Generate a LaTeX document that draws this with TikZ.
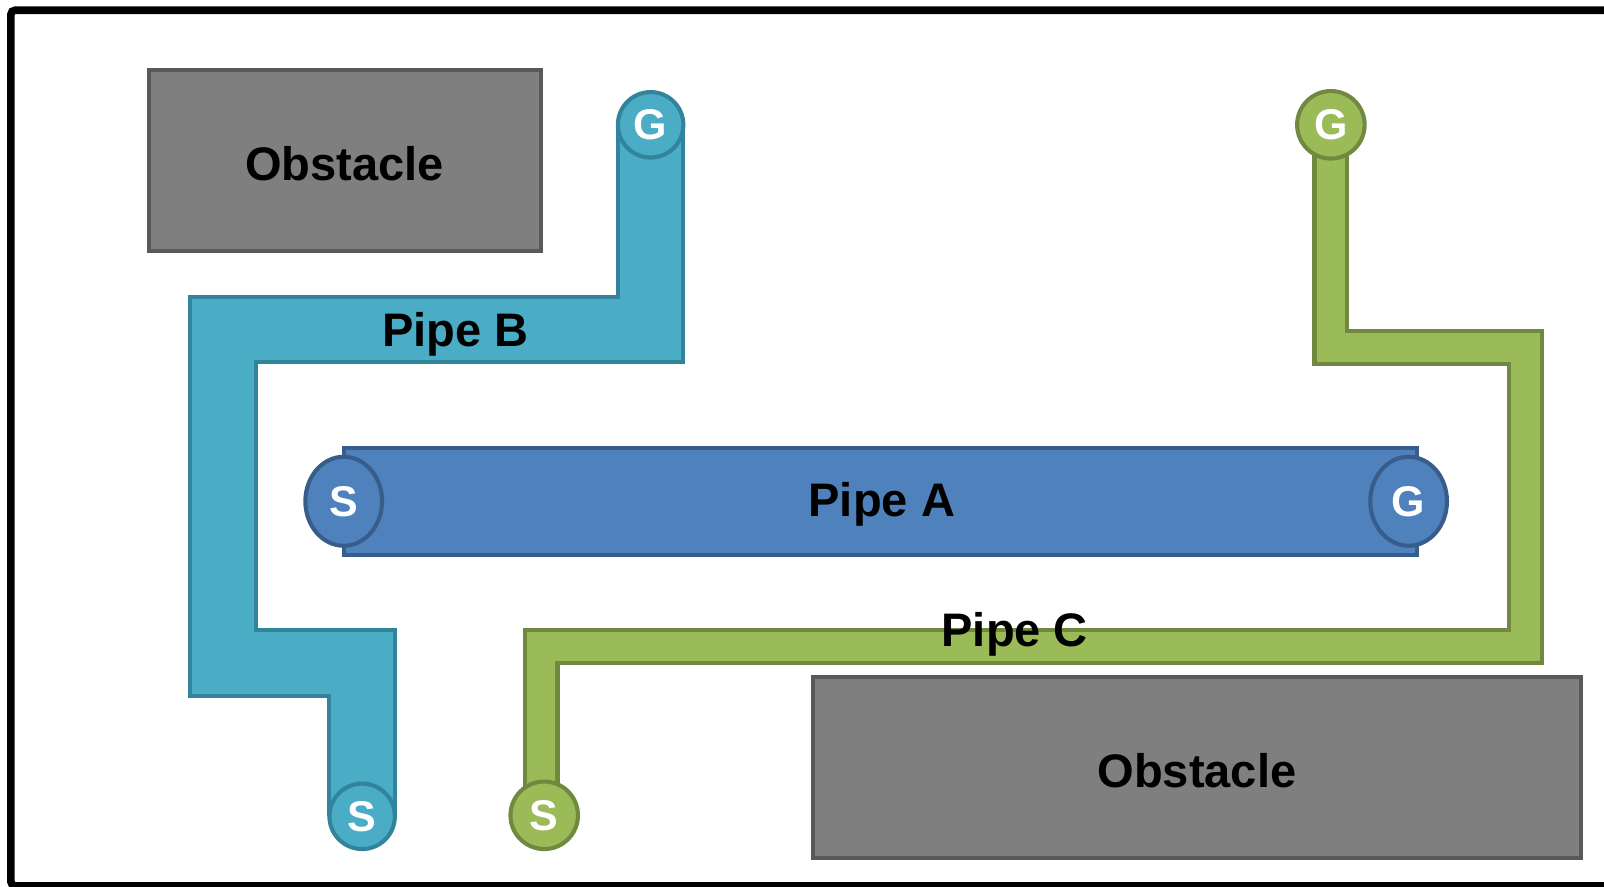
\documentclass[tikz,border=0pt]{standalone}
\usepackage{fontspec}
\setmainfont{Liberation Sans}
\usetikzlibrary{shapes.geometric}

\definecolor{tealfill}{HTML}{4BACC6}
\definecolor{tealline}{HTML}{31849B}
\definecolor{greenfill}{HTML}{9BBB59}
\definecolor{greenline}{HTML}{71893F}
\definecolor{bluefill}{HTML}{4F81BD}
\definecolor{blueline}{HTML}{385D8A}
\definecolor{obsfill}{HTML}{7F7F7F}
\definecolor{obsline}{HTML}{595959}

\begin{document}
\begin{tikzpicture}[x=0.5pt,y=-0.5pt,
  lbl/.style={font=\fontsize{23}{23}\selectfont\bfseries, text=black},
  endfont/.style={font=\fontsize{21}{21}\selectfont\bfseries, text=white, inner sep=0pt},
  obstacle/.style={rectangle, draw=obsline, fill=obsfill, line width=2pt, lbl},
  tealpipe/.style={draw=tealline, double=tealfill, double distance=30pt, line width=2pt, line join=miter},
  greenpipe/.style={draw=greenline, double=greenfill, double distance=14pt, line width=2pt, line join=miter},
  tealend/.style={circle, draw=tealline, fill=tealfill, line width=2pt, minimum size=32pt, endfont},
  greenend/.style={circle, draw=greenline, fill=greenfill, line width=2pt, minimum size=33pt, endfont},
  blueend/.style={ellipse, draw=blueline, fill=bluefill, line width=2pt, minimum width=37.5pt, minimum height=43.5pt, endfont},
  bluebar/.style={rectangle, draw=blueline, fill=bluefill, line width=2pt}]

\useasboundingbox (0,0) rectangle (1568,867);

% outer frame
\draw[line width=3.7pt, rounded corners=2pt] (10.7,10) rectangle (1600,866);

% obstacles
\node[obstacle, minimum width=191.5pt, minimum height=88.5pt] (obsA) at (337,157) {};
\node[lbl] (obsAtext) at (337,160) {Obstacle};
\node[obstacle, minimum width=375.5pt, minimum height=88.5pt] (obsB) at (1170,750) {};
\node[lbl] (obsBtext) at (1170,753) {Obstacle};

% pipe endpoints
\coordinate (bSp) at (354,798);
\coordinate (bGp) at (636,122);
\coordinate (cSp) at (532,797);
\coordinate (cGp) at (1301,122);

% pipe B
\coordinate (b1) at (354,648);
\coordinate (b2) at (218,648);
\coordinate (b3) at (218,322);
\coordinate (b4) at (636,322);
\draw[tealpipe] (bSp) -- (b1) -- (b2) -- (b3) -- (b4) -- (bGp);

% pipe C
\coordinate (c0) at (529,797);
\coordinate (c1) at (529,632);
\coordinate (c2) at (1491,632);
\coordinate (c3) at (1491,340);
\coordinate (c4) at (1301,340);
\draw[greenpipe] (cSp) -- (c0) -- (c1) -- (c2) -- (c3) -- (c4) -- (cGp);

% pipe A
\node[bluebar, minimum width=524.5pt, minimum height=52.5pt] (pipeA) at (861,490) {};
\node[blueend] (aS) at (336,490) {S};
\node[blueend] (aG) at (1377,490) {G};

% end markers
\node[tealend] (bS) at (bSp) {S};
\node[tealend] (bG) at (bGp) {G};
\node[greenend] (cS) at (cSp) {S};
\node[greenend] (cG) at (cGp) {G};

% labels
\node[lbl] (labA) at (862,493) {Pipe A};
\node[lbl] (labB) at (445,327) {Pipe B};
\node[lbl] (labC) at (992,620) {Pipe C};

\end{tikzpicture}
\end{document}
